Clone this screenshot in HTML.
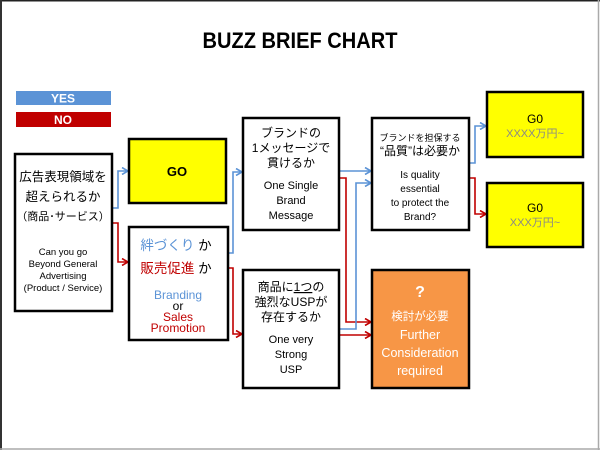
<!DOCTYPE html>
<html><head><meta charset="utf-8"><style>
html,body{margin:0;padding:0;background:#fff}
svg{display:block}
text{font-family:"Liberation Sans","Noto Sans CJK JP",sans-serif;text-anchor:middle}
</style></head><body>
<svg width="600" height="450" viewBox="0 0 600 450" xmlns="http://www.w3.org/2000/svg">
<defs>
<marker id="ab" markerWidth="8" markerHeight="8" refX="7" refY="4" orient="auto" markerUnits="userSpaceOnUse"><path d="M1,0.5 L7,4 L1,7.5" fill="none" stroke="#5b93d6" stroke-width="1.6"/></marker>
<marker id="ar" markerWidth="8" markerHeight="8" refX="7" refY="4" orient="auto" markerUnits="userSpaceOnUse"><path d="M1,0.5 L7,4 L1,7.5" fill="none" stroke="#c00000" stroke-width="1.6"/></marker>
</defs>
<rect x="0" y="0" width="600" height="450" fill="#fff"/>
<line x1="0" y1="0.5" x2="600" y2="0.5" stroke="#222" stroke-width="2"/>
<line x1="1" y1="0" x2="1" y2="450" stroke="#333" stroke-width="2"/>
<line x1="598.5" y1="0" x2="598.5" y2="450" stroke="#aaa" stroke-width="1.5"/>
<line x1="0" y1="449" x2="600" y2="449" stroke="#aaa" stroke-width="1.5"/>

<text x="300" y="48" font-size="22" font-weight="bold" textLength="195" lengthAdjust="spacingAndGlyphs">BUZZ BRIEF CHART</text>

<rect x="16" y="91" width="95" height="14" fill="#5b93d6"/>
<text x="63" y="102.5" font-size="12" font-weight="bold" fill="#fff">YES</text>
<rect x="16" y="112" width="95" height="15" fill="#c00000"/>
<text x="63" y="124" font-size="12" font-weight="bold" fill="#fff">NO</text>

<g fill="none" stroke-width="1.6">
<polyline points="112,208 118,208 118,171 128,171" stroke="#5b93d6" marker-end="url(#ab)"/>
<polyline points="112,223 118,223 118,262 128,262" stroke="#c00000" marker-end="url(#ar)"/>
<polyline points="228,253 233,253 233,172 242,172" stroke="#5b93d6" marker-end="url(#ab)"/>
<polyline points="228,268 233,268 233,334 242,334" stroke="#c00000" marker-end="url(#ar)"/>
<polyline points="339,171 371,171" stroke="#5b93d6" marker-end="url(#ab)"/>
<polyline points="339,178 346,178 346,322 371,322" stroke="#c00000" marker-end="url(#ar)"/>
<polyline points="339,329 356,329 356,183 371,183" stroke="#5b93d6" marker-end="url(#ab)"/>
<polyline points="339,335 371,335" stroke="#c00000" marker-end="url(#ar)"/>
<polyline points="469,163 475,163 475,126 486,126" stroke="#5b93d6" marker-end="url(#ab)"/>
<polyline points="469,178 475,178 475,214 486,214" stroke="#c00000" marker-end="url(#ar)"/>
</g>

<g stroke="#000" stroke-width="2.5">
<rect x="15" y="154" width="97" height="157" fill="#fff"/>
<rect x="129" y="139" width="97" height="64" fill="#ffff00"/>
<rect x="129" y="227" width="99" height="113" fill="#fff"/>
<rect x="243" y="118" width="96" height="112" fill="#fff"/>
<rect x="243" y="270" width="96" height="118" fill="#fff"/>
<rect x="372" y="118" width="97" height="112" fill="#fff"/>
<rect x="372" y="270" width="97" height="118" fill="#f79646"/>
<rect x="487" y="92" width="96" height="65" fill="#ffff00"/>
<rect x="487" y="183" width="96" height="64" fill="#ffff00"/>
</g>

<g font-size="12">
<text x="63" y="181" font-size="12.5">広告表現領域を</text>
<text x="63" y="201" font-size="12.5">超えられるか</text>
<text x="63" y="220" font-size="11">（商品･サービス）</text>
<g font-size="9.5">
<text x="63" y="255">Can you go</text>
<text x="63" y="267">Beyond General</text>
<text x="63" y="279">Advertising</text>
<text x="63" y="291">(Product / Service)</text>
</g>
<text x="177" y="176" font-size="13" font-weight="bold">GO</text>

<text x="176" y="250" font-size="13.5"><tspan fill="#5b93d6">絆づくり</tspan> か</text>
<text x="176" y="273" font-size="13.5"><tspan fill="#c00000">販売促進</tspan> か</text>
<text x="178" y="299" font-size="12" fill="#5b93d6">Branding</text>
<text x="178" y="310" font-size="12">or</text>
<text x="178" y="321" font-size="12" fill="#c00000">Sales</text>
<text x="178" y="332" font-size="12" fill="#c00000">Promotion</text>

<text x="291" y="137">ブランドの</text>
<text x="291" y="152">1メッセージで</text>
<text x="291" y="167">貫けるか</text>
<text x="291" y="189" font-size="11">One Single</text>
<text x="291" y="204" font-size="11">Brand</text>
<text x="291" y="219" font-size="11">Message</text>

<text x="291" y="291">商品に<tspan text-decoration="underline">1つ</tspan>の</text>
<text x="291" y="306">強烈なUSPが</text>
<text x="291" y="321">存在するか</text>
<text x="291" y="343" font-size="11">One very</text>
<text x="291" y="358" font-size="11">Strong</text>
<text x="291" y="373" font-size="11">USP</text>

<text x="420" y="141" font-size="9">ブランドを担保する</text>
<text x="420" y="155">“品質”は必要か</text>
<g font-size="10">
<text x="420" y="178">Is quality</text>
<text x="420" y="192">essential</text>
<text x="420" y="206">to protect the</text>
<text x="420" y="220">Brand?</text>
</g>

<g fill="#fff">
<text x="420" y="297" font-size="16" font-weight="bold">?</text>
<text x="420" y="320" font-size="11.5">検討が必要</text>
<text x="420" y="339" font-size="12.5">Further</text>
<text x="420" y="357" font-size="12.5">Consideration</text>
<text x="420" y="375" font-size="12.5">required</text>
</g>

<text x="535" y="123">G0</text>
<text x="535" y="137" font-size="11" fill="#888">XXXX万円~</text>
<text x="535" y="212">G0</text>
<text x="535" y="226" font-size="11" fill="#888">XXX万円~</text>
</g>
</svg>
</body></html>
